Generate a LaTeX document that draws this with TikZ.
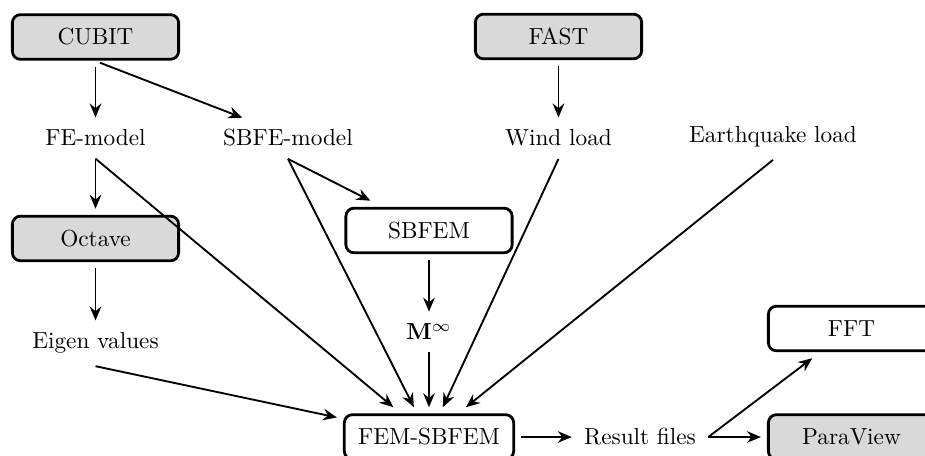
\documentclass[tikz,border=0pt]{standalone}
\usetikzlibrary{arrows.meta,calc}
\begin{document}
\begin{tikzpicture}[x=0.43pt,y=-0.43pt,
  box/.style={draw, line width=1.2pt, rounded corners=3.5pt, minimum width=71.5pt,
    minimum height=19.2pt, outer sep=3.2pt, inner sep=2pt},
  tool/.style={box, fill=black!15},
  lbl/.style={outer sep=2pt, inner sep=3.33pt},
  arr/.style={-{Stealth[length=6pt,width=5pt,inset=2pt]}, line width=0.8pt}]
\useasboundingbox (0,0) rectangle (925,456);
% boxes
\node[tool] (cubit)  at (95.5,37)    {CUBIT};
\node[tool] (fast)   at (558.5,36.5) {FAST};
\node[tool] (octave) at (95.5,238.5) {Octave};
\node[box]  (sbfem)  at (429,230.5)  {SBFEM};
\node[box, minimum width=72.8pt] (fem) at (429,437) {FEM-SBFEM};
\node[box]  (fft)    at (851.5,328.5) {FFT};
\node[tool] (para)   at (851.5,437)  {ParaView};
% labels
\node[lbl, anchor=base] (fe)    at (95.5,146)  {FE-model};
\node[lbl, anchor=base] (sbfe)  at (288,146)   {SBFE-model};
\node[lbl, anchor=base] (wind)  at (558.5,146) {Wind load};
\node[lbl, anchor=base] (eq)    at (773,143)   {Earthquake load};
\node[lbl, anchor=base] (eigen) at (95.5,349)  {Eigen values};
\node[lbl, anchor=base] (minf)  at (429,340)   {$\mathbf{M}^{\infty}$};
\node[lbl, anchor=base] (res)   at (640,445)   {Result files};
% connectors
\draw[arr] (cubit) -- (fe);
\draw[arr] ($(cubit.south)+(4.5,-4)$) -- ($(sbfe.north west)+(31.5,0.5)$);
\draw[arr] (fast) -- (wind);
\draw[arr] (fe) -- (octave);
\draw[arr] (octave) -- (eigen);
\draw[arr] (fe.south) -- (fem);
\draw[arr] (sbfe.south) -- (sbfem);
\draw[arr] (sbfe.south) -- (fem);
\draw[arr] (sbfem) -- (minf);
\draw[arr] (minf) -- (fem);
\draw[arr] (wind.south) -- (fem);
\draw[arr] (eq.south) -- (fem);
\draw[arr] (eigen.south) -- (fem);
\draw[arr] (fem) -- (res);
\draw[arr] (res.east) -- (fft);
\draw[arr] (res) -- (para);
\end{tikzpicture}
\end{document}
